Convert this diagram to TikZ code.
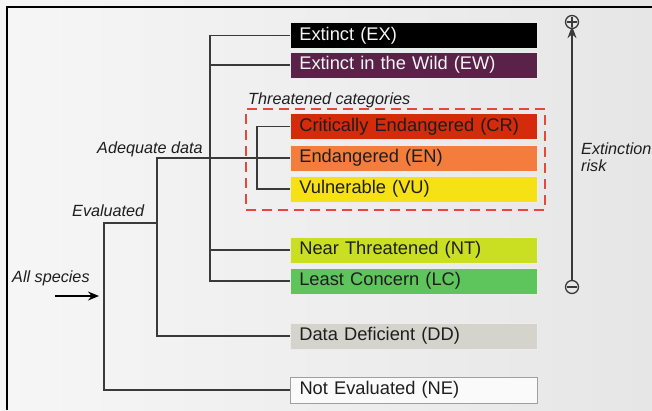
\documentclass[tikz,border=0pt]{standalone}
\usepackage{fontspec}
\setmainfont{Liberation Sans}
\usetikzlibrary{arrows.meta}
\definecolor{bgc}{HTML}{E6E6E6}
\definecolor{bgl}{HTML}{F6F6F6}
\definecolor{cEX}{HTML}{000000}
\definecolor{cEW}{HTML}{5A2149}
\definecolor{cCR}{HTML}{D52A0C}
\definecolor{cEN}{HTML}{F47C3C}
\definecolor{cVU}{HTML}{F6E214}
\definecolor{cNT}{HTML}{CADF22}
\definecolor{cLC}{HTML}{5EC45C}
\definecolor{cDD}{HTML}{D4D4CC}
\definecolor{cNE}{HTML}{FAFAFA}
\definecolor{linec}{HTML}{3A3A3A}
\definecolor{dashc}{HTML}{E8463C}
\definecolor{txtc}{HTML}{1E1E1E}
\tikzset{
  catbox/.style={rectangle, anchor=west, text width=229pt, inner xsep=9pt, inner ysep=0pt,
    minimum height=26pt, align=left, draw=white!85!gray, line width=0.6pt,
    font=\fontsize{18.3}{20}\selectfont, text=txtc},
  darkbox/.style={catbox, text=white!92!gray},
  tree/.style={draw=linec, line width=1.6pt},
  lbl/.style={font=\fontsize{16.2}{17}\selectfont\itshape, text=txtc, inner sep=0pt},
  risksign/.style={circle, draw=linec, line width=1.3pt, minimum size=13pt, inner sep=0pt}
}
\begin{document}
\begin{tikzpicture}[x=1pt,y=-1pt]
\useasboundingbox (0,0) rectangle (652,410);
\shade[left color=bgl, right color=bgc] (0,0) rectangle (652,410);
% frame
\draw[black, line width=2.6pt] (7,410) -- (7,7) -- (652,7);

% category boxes
\node[darkbox, fill=cEX] (EX) at (290,35.5) {Extinct (EX)};
\node[darkbox, fill=cEW] (EW) at (290,65) {Extinct in the Wild (EW)};
\node[catbox, fill=cCR] (CR) at (290,126.5) {Critically Endangered (CR)};
\node[catbox, fill=cEN] (EN) at (290,158) {Endangered (EN)};
\node[catbox, fill=cVU] (VU) at (290,189) {Vulnerable (VU)};
\node[catbox, fill=cNT] (NT) at (290,250) {Near Threatened (NT)};
\node[catbox, fill=cLC] (LC) at (290,281) {Least Concern (LC)};
\node[catbox, fill=cDD] (DD) at (290,336) {Data Deficient (DD)};
\node[catbox, fill=cNE, draw=gray!75, line width=1pt] (NE) at (290,390) {Not Evaluated (NE)};

% threatened group
\node[rectangle, draw=dashc, line width=1.6pt, dash pattern=on 10pt off 6pt,
  minimum width=299pt, minimum height=101pt, anchor=north west, inner sep=0pt] (TG) at (245,108) {};
\node[lbl, anchor=base west] (TL) at (248,104) {Threatened categories};

% branch coordinates
\coordinate (xA) at (210,0);
\coordinate (xT) at (257,0);
\coordinate (xD) at (157,0);
\coordinate (xE) at (104,0);
\coordinate (ev) at (157,223);

% tree
\draw[tree] (EX.west) -- (EX.west -| xA) -- (LC.west -| xA) -- (LC.west);
\draw[tree] (EW.west) -- (EW.west -| xA);
\draw[tree] (NT.west) -- (NT.west -| xA);
\draw[tree] (CR.west) -- (CR.west -| xT) -- (VU.west -| xT) -- (VU.west);
\draw[tree] (EN.west) -- (EN.west -| xD) -- (DD.west -| xD) -- (DD.west);
\draw[tree] (ev) -- (ev -| xE) -- (NE.west -| xE) -- (NE.west);

% labels
\node[lbl, anchor=base west] (AD) at (97,153) {Adequate data};
\node[lbl, anchor=base west] (EV) at (72,216) {Evaluated};
\node[lbl, anchor=base west] (AS) at (12,282) {All species};

% all species arrow
\coordinate (asS) at (55,296);
\coordinate (asE) at (99,296);
\draw[draw=black, line width=1.6pt, -{Stealth[length=11pt,width=9pt]}] (asS) -- (asE);

% extinction risk axis
\node[risksign] (PL) at (572,22) {};
\draw[linec, line width=1.3pt] ([xshift=2pt]PL.west) -- ([xshift=-2pt]PL.east);
\draw[linec, line width=1.3pt] ([yshift=-2pt]PL.north) -- ([yshift=2pt]PL.south);
\node[risksign] (MI) at (572,287) {};
\draw[linec, line width=1.3pt] ([xshift=2pt]MI.west) -- ([xshift=-2pt]MI.east);
\draw[linec, line width=1.5pt, -{Stealth[length=12pt,width=9pt]}] (MI.north) -- ([yshift=3pt]PL.south);
\node[lbl, anchor=north west, align=left] (ER) at (581,143) {Extinction\\risk};
\end{tikzpicture}
\end{document}
